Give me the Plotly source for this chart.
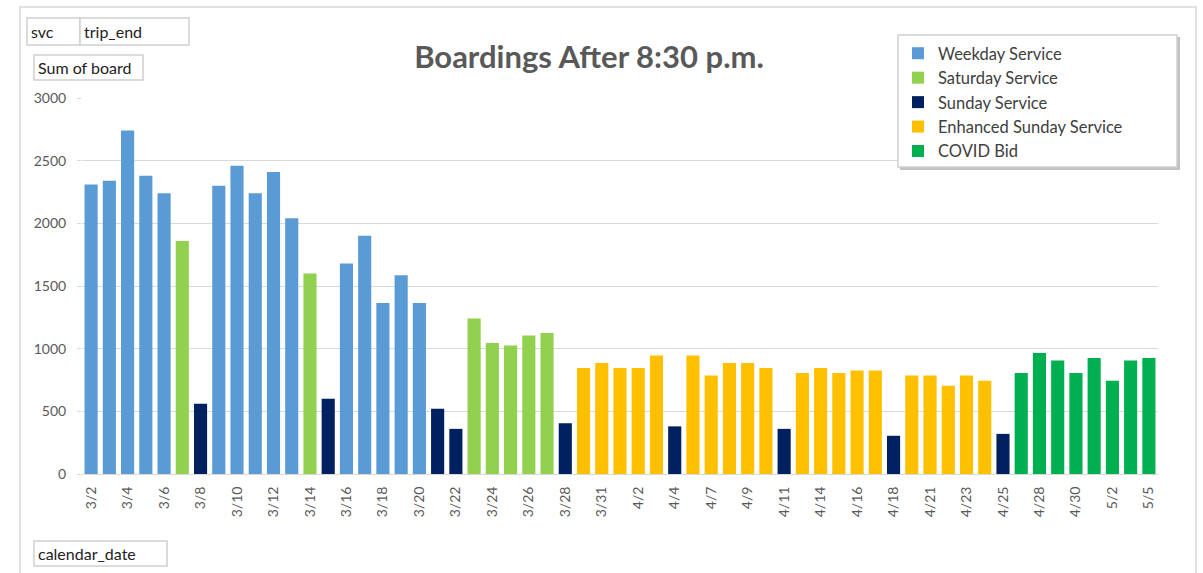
import plotly.graph_objects as go

W, H = 1203, 573

# Calendar dates (x categories)
dates = [
    "3/2", "3/3", "3/4", "3/5", "3/6", "3/7", "3/8", "3/9", "3/10", "3/11",
    "3/12", "3/13", "3/14", "3/15", "3/16", "3/17", "3/18", "3/19", "3/20", "3/21",
    "3/22", "3/23", "3/24", "3/25", "3/26", "3/27", "3/28", "3/30", "3/31", "4/1",
    "4/2", "4/3", "4/4", "4/6", "4/7", "4/8", "4/9", "4/10", "4/11", "4/13",
    "4/14", "4/15", "4/16", "4/17", "4/18", "4/20", "4/21", "4/22", "4/23", "4/24",
    "4/25", "4/27", "4/28", "4/29", "4/30", "5/1", "5/2", "5/4", "5/5",
]

# Sum of boardings after 8:30 p.m. per date
boardings = [
    2310, 2340, 2740, 2380, 2240, 1860, 560, 2300, 2460, 2240,
    2410, 2040, 1600, 600, 1680, 1900, 1365, 1585, 1365, 520,
    360, 1240, 1045, 1025, 1105, 1125, 405, 845, 885, 845,
    845, 945, 380, 945, 785, 885, 885, 845, 360, 805,
    845, 805, 825, 825, 305, 785, 785, 705, 785, 745,
    320, 805, 965, 905, 805, 925, 745, 905, 925,
]

# Service type operated on each date
svc = (
    ["Weekday Service"] * 5 + ["Saturday Service", "Sunday Service"]
    + ["Weekday Service"] * 5 + ["Saturday Service", "Sunday Service"]
    + ["Weekday Service"] * 5 + ["Sunday Service"] * 2
    + ["Saturday Service"] * 5 + ["Sunday Service"]
    + ["Enhanced Sunday Service"] * 5 + ["Sunday Service"]
    + ["Enhanced Sunday Service"] * 5 + ["Sunday Service"]
    + ["Enhanced Sunday Service"] * 5 + ["Sunday Service"]
    + ["Enhanced Sunday Service"] * 5 + ["Sunday Service"]
    + ["COVID Bid"] * 8
)

services = ["Weekday Service", "Saturday Service", "Sunday Service",
            "Enhanced Sunday Service", "COVID Bid"]
colors = {
    "Weekday Service": "#5B9BD5",
    "Saturday Service": "#92D050",
    "Sunday Service": "#002060",
    "Enhanced Sunday Service": "#FFC000",
    "COVID Bid": "#00B050",
}
y_ticks = [0, 500, 1000, 1500, 2000, 2500, 3000]

FONT = "Lato, 'Open Sans', sans-serif"
GRAY = "#595959"

fig = go.Figure()
for s in services:
    xs = [d for d, k in zip(dates, svc) if k == s]
    ys = [v for v, k in zip(boardings, svc) if k == s]
    fig.add_trace(go.Bar(
        x=xs, y=ys, name=s, legendgroup=s,
        marker=dict(color=colors[s], line=dict(width=0)),
    ))

# plot area edges in pixels
L, R, T, B = 82, 1158, 98, 474


def fx(x):
    """pixel column -> paper x"""
    return (x - L) / (R - L)


def fy(y):
    """pixel row -> paper y"""
    return (B - y) / (B - T)


shapes = [
    # chart-area frame
    dict(type="rect", xref="paper", yref="paper", layer="below",
         x0=fx(20), x1=fx(1196), y0=fy(620), y1=fy(7),
         line=dict(color="#D9D9D9", width=1.5)),
    # legend panel: drop shadow, then the framed box itself
    dict(type="rect", xref="paper", yref="paper", layer="above",
         x0=fx(900), x1=fx(1180), y0=fy(170), y1=fy(37),
         line=dict(width=0), fillcolor="#C2C2C2"),
    dict(type="rect", xref="paper", yref="paper", layer="above",
         x0=fx(898), x1=fx(1177), y0=fy(167), y1=fy(35),
         line=dict(color="#D0D0D0", width=1.5), fillcolor="white"),
]

# pivot-chart field buttons
boxes = [
    ("svc", 27, 80, 18, 45),
    ("trip_end", 80, 189, 18, 45),
    ("Sum of board", 34, 143, 55, 80),
    ("calendar_date", 34, 167, 541, 566),
]
for text, x0, x1, y0, y1 in boxes:
    shapes.append(dict(
        type="rect", xref="paper", yref="paper", layer="above",
        x0=fx(x0), x1=fx(x1), y0=fy(y1), y1=fy(y0),
        line=dict(color="#D0D0D0", width=1.5), fillcolor="white",
        label=dict(text=text, textposition="middle left", padding=1,
                   font=dict(family=FONT, size=16, color="#222222")),
    ))

fig.update_layout(
    width=W, height=H,
    margin=dict(l=L, r=W - R, t=T, b=H - B, autoexpand=False),
    paper_bgcolor="white", plot_bgcolor="white",
    barmode="overlay", bargap=0.28,
    title=dict(text="<b>Boardings After 8:30 p.m.</b>",
               xref="container", yref="container",
               x=589 / W, y=1 - 57 / H, xanchor="center", yanchor="middle",
               font=dict(family=FONT, size=31, color=GRAY)),
    xaxis=dict(
        type="category", categoryorder="array", categoryarray=dates,
        tickmode="array", tickvals=dates[::2], ticktext=dates[::2],
        tickangle=-90, tickfont=dict(family=FONT, size=14, color=GRAY),
        showgrid=False, showline=True, linecolor="#D9D9D9", linewidth=1,
        ticks="", ticklabelstandoff=6,
    ),
    yaxis=dict(
        range=[0, 3000], tickvals=y_ticks,
        tickfont=dict(family=FONT, size=14, color=GRAY),
        showgrid=True, gridcolor="#D9D9D9", gridwidth=1,
        zeroline=False, showline=False,
        ticks="outside", ticklen=4, tickcolor="#D9D9D9", ticklabelstandoff=8,
    ),
    legend=dict(
        x=fx(898), y=fy(36), xanchor="left", yanchor="top",
        borderwidth=0, bgcolor="rgba(0,0,0,0)",
        font=dict(family=FONT, size=16.5, color="#404040"),
        traceorder="grouped", tracegroupgap=0,
        itemclick=False, itemdoubleclick=False,
    ),
    shapes=shapes,
)

fig.write_html("out.html")
